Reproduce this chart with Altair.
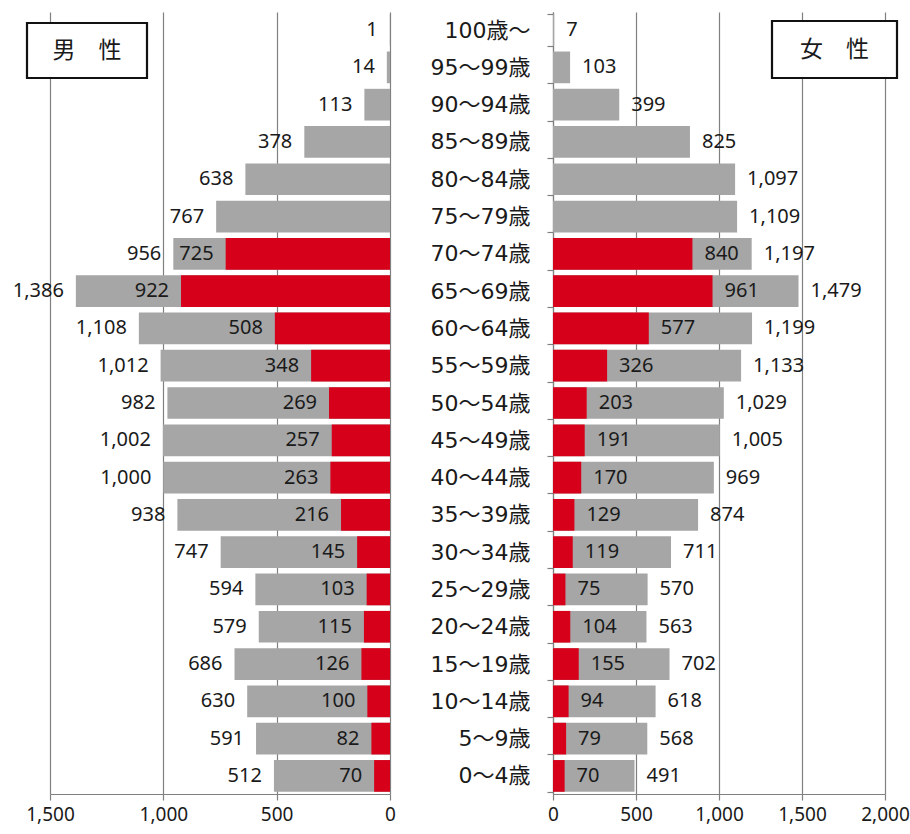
import altair as alt
import pandas as pd

ages = ["100歳～", "95～99歳", "90～94歳", "85～89歳", "80～84歳", "75～79歳",
        "70～74歳", "65～69歳", "60～64歳", "55～59歳", "50～54歳", "45～49歳",
        "40～44歳", "35～39歳", "30～34歳", "25～29歳", "20～24歳", "15～19歳",
        "10～14歳", "5～9歳", "0～4歳"]

male_total = [1, 14, 113, 378, 638, 767, 956, 1386, 1108, 1012, 982, 1002,
              1000, 938, 747, 594, 579, 686, 630, 591, 512]
male_red = [None, None, None, None, None, None, 725, 922, 508, 348, 269, 257,
            263, 216, 145, 103, 115, 126, 100, 82, 70]

female_total = [7, 103, 399, 825, 1097, 1109, 1197, 1479, 1199, 1133, 1029, 1005,
                969, 874, 711, 570, 563, 702, 618, 568, 491]
female_red = [None, None, None, None, None, None, 840, 961, 577, 326, 203, 191,
              170, 129, 119, 75, 104, 155, 94, 79, 70]

male_ticks = [0, 500, 1000, 1500]
female_ticks = [0, 500, 1000, 1500, 2000]
panel_titles = ["男　性", "女　性"]

NUM_FONT = "Noto Sans"
JP_FONT = "Noto Sans CJK JP"
AGE_FONT = "DejaVu Sans, Noto Sans CJK JP"
GRAY = "#a6a6a6"
RED = "#d7001b"
GRID = "#808080"
TXT = "#1a1a1a"

H = 782


def panel(totals, reds, domain, reverse, ticks, side, title, box, width):
    df = pd.DataFrame({"age": ages, "total": totals, "red": reds})
    xscale = alt.Scale(domain=domain, reverse=reverse, nice=False, zero=True)
    xaxis = alt.Axis(values=ticks, format=",.0f", grid=True, gridColor=GRID,
                     gridWidth=1.2, title=None, labelFont=NUM_FONT,
                     labelFontSize=19, labelColor=TXT, tickColor=GRID,
                     domainColor=GRID, tickSize=6, labelPadding=5,
                     labelFlush=False, domainWidth=1.2, tickWidth=1.2)
    if side == "left":
        yaxis = None
    else:
        yaxis = alt.Axis(title=None, labelFont=AGE_FONT, labelFontSize=22,
                         labelColor=TXT, labelAlign="right", labelPadding=17,
                         tickSize=6, tickColor=GRID, tickBand="extent",
                         domainColor=GRID, domainWidth=1.2, tickWidth=1.2,
                         labelBaseline="middle")
    y = alt.Y("age:N", sort=ages,
              scale=alt.Scale(paddingInner=0.15, paddingOuter=0.06),
              axis=yaxis)
    base = alt.Chart(df)
    gray = base.mark_bar(color=GRAY).encode(
        x=alt.X("total:Q", scale=xscale, axis=xaxis), y=y)
    red = base.transform_filter("isValid(datum.red)").mark_bar(color=RED).encode(
        x=alt.X("red:Q", scale=xscale, axis=xaxis), y=y)
    align = "right" if side == "left" else "left"
    dx = -12 if side == "left" else 12
    tot_txt = base.mark_text(align=align, dx=dx, baseline="middle",
                             font=NUM_FONT, fontSize=20, color=TXT).encode(
        x=alt.X("total:Q", scale=xscale, axis=xaxis), y=y,
        text=alt.Text("total:Q", format=","))
    red_txt = base.transform_filter("isValid(datum.red)").mark_text(
        align=align, dx=dx, baseline="middle", font=NUM_FONT, fontSize=20,
        color=TXT).encode(
        x=alt.X("red:Q", scale=xscale, axis=xaxis), y=y,
        text=alt.Text("red:Q", format=","))
    tdf = pd.DataFrame({"label": [title]})
    x0, x1, y0, y1 = box
    rect = alt.Chart(tdf).mark_rect(fill="white", stroke="#111",
                                    strokeWidth=2.2).encode(
        x=alt.value(x0), x2=alt.value(x1), y=alt.value(y0), y2=alt.value(y1))
    ttl = alt.Chart(tdf).mark_text(font=JP_FONT, fontSize=23, color=TXT,
                                   align="center", baseline="middle").encode(
        x=alt.value((x0 + x1) / 2), y=alt.value((y0 + y1) / 2),
        text="label:N")
    return alt.layer(gray, red, tot_txt, red_txt, rect, ttl).properties(
        width=width, height=H)


male_chart = panel(male_total, male_red, [0, 1500], True, male_ticks, "left",
                   panel_titles[0], (-23, 97, 11, 66), 340)
female_chart = panel(female_total, female_red, [0, 2000], False, female_ticks,
                     "right", panel_titles[1], (219, 344, 9, 66), 332)

chart = alt.hconcat(male_chart, female_chart, spacing=163, bounds="flush").properties(
    padding={"left": 12, "top": 1, "right": 0, "bottom": 33},
    background="white",
).configure_view(stroke=None)

chart.save("out.html", embed_options={"renderer": "svg", "actions": False})
